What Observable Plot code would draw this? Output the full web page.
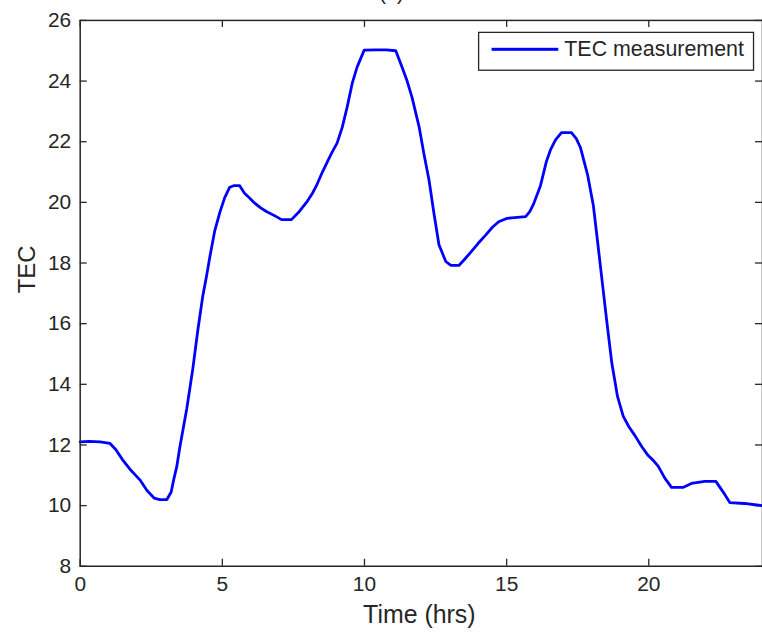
<!DOCTYPE html>
<html>
<head>
<meta charset="utf-8">
<script src="https://cdn.jsdelivr.net/npm/d3@7"></script>
<script src="https://cdn.jsdelivr.net/npm/@observablehq/plot@0.6"></script>
<style>
  html, body { margin: 0; padding: 0; background: #fff; overflow: hidden; width: 762px; height: 634px; }
  #chart svg { display: block; }
</style>
</head>
<body>
<div id="chart"></div>
<script>
const titleText = "(a)";
const xLabel = "Time (hrs)";
const yLabel = "TEC";
const legendLabel = "TEC measurement";
const xTicks = [0, 5, 10, 15, 20];
const yTicks = [8, 10, 12, 14, 16, 18, 20, 22, 24, 26];

const hours = [0, 0.3, 0.7, 1.05, 1.25, 1.5, 1.75, 2.1, 2.35, 2.6, 2.8, 3.05, 3.2, 3.3, 3.4, 3.5, 3.75, 3.96, 4.14, 4.31, 4.45, 4.56, 4.73, 4.91, 5.08, 5.26, 5.4, 5.61, 5.78, 5.95, 6.13, 6.35, 6.55, 6.9, 7.08, 7.43, 7.71, 8.0, 8.17, 8.31, 8.52, 8.83, 9.04, 9.22, 9.39, 9.57, 9.74, 9.99, 10.4, 10.76, 11.1, 11.32, 11.5, 11.67, 11.92, 12.09, 12.27, 12.44, 12.62, 12.86, 13.04, 13.32, 13.5, 13.78, 14.0, 14.27, 14.5, 14.72, 15.0, 15.18, 15.67, 15.82, 15.95, 16.19, 16.4, 16.55, 16.72, 16.93, 17.28, 17.45, 17.6, 17.85, 18.05, 18.2, 18.36, 18.52, 18.7, 18.9, 19.1, 19.3, 19.52, 19.75, 19.98, 20.15, 20.33, 20.57, 20.8, 21.2, 21.5, 21.97, 22.36, 22.6, 22.85, 23.37, 23.8, 24];
const tec = [12.1, 12.12, 12.1, 12.05, 11.85, 11.5, 11.2, 10.85, 10.5, 10.25, 10.2, 10.2, 10.45, 10.9, 11.3, 11.9, 13.2, 14.5, 15.8, 16.9, 17.6, 18.2, 19.05, 19.66, 20.15, 20.5, 20.55, 20.55, 20.3, 20.15, 19.98, 19.82, 19.7, 19.53, 19.43, 19.43, 19.7, 20.05, 20.3, 20.55, 21.0, 21.6, 21.96, 22.48, 23.14, 23.93, 24.46, 25.02, 25.03, 25.03, 25.0, 24.46, 24.0, 23.47, 22.5, 21.6, 20.74, 19.66, 18.6, 18.05, 17.92, 17.92, 18.1, 18.4, 18.65, 18.93, 19.18, 19.36, 19.47, 19.49, 19.53, 19.7, 19.95, 20.55, 21.35, 21.75, 22.06, 22.3, 22.3, 22.1, 21.8, 20.9, 19.9, 18.7, 17.4, 16.1, 14.7, 13.6, 12.95, 12.6, 12.3, 11.95, 11.65, 11.5, 11.3, 10.9, 10.6, 10.6, 10.73, 10.8, 10.8, 10.47, 10.1, 10.07, 10.02, 10.0];

const data = hours.map((h, i) => ({h, v: tec[i]}));

const ink = "#262626";
const blue = "#0000ff";
const font = "Liberation Sans, Arial, Helvetica, sans-serif";

const W = 765, H = 634;
const mL = 80, mR = 0, mT = 20, mB = 66;
const plotW = W - mL - mR, plotH = H - mT - mB;
const tick = 7;

const chart = Plot.plot({
  width: W,
  height: H,
  marginLeft: mL,
  marginRight: mR,
  marginTop: mT,
  marginBottom: mB,
  style: {fontFamily: font, fontSize: "20px", color: ink, background: "white", overflow: "visible"},
  x: {domain: [0, 24], ticks: xTicks},
  y: {domain: [8, 26], ticks: yTicks},
  marks: [
    Plot.axisX(xTicks, {anchor: "bottom", tickSize: 0, tickPadding: 10, fontSize: 21, fill: ink, label: null, tickFormat: d => String(d)}),
    Plot.axisY(yTicks, {anchor: "left", tickSize: 0, tickPadding: 9, fontSize: 21, fill: ink, label: null, tickFormat: d => String(d)}),
    Plot.tickX(xTicks, {x: d => d, insetTop: plotH - tick, stroke: ink, strokeWidth: 1.3}),
    Plot.tickX(xTicks, {x: d => d, insetBottom: plotH - tick, stroke: ink, strokeWidth: 1.3}),
    Plot.tickY(yTicks, {y: d => d, insetRight: plotW - tick, stroke: ink, strokeWidth: 1.3}),
    Plot.tickY(yTicks, {y: d => d, insetLeft: plotW - tick, stroke: ink, strokeWidth: 1.3}),
    Plot.line(data, {x: "h", y: "v", stroke: blue, strokeWidth: 2.8, strokeLinejoin: "round", strokeLinecap: "round"}),
    Plot.frame({stroke: ink, strokeWidth: 1.5}),
    Plot.frame({insetLeft: 400, insetRight: 9, insetTop: 12, insetBottom: 498, fill: "white", stroke: ink, strokeWidth: 1.3}),
    Plot.frame({insetLeft: 413, insetRight: 205, insetTop: 27.5, insetBottom: 517.5, fill: blue, stroke: "none"}),
    Plot.text([legendLabel], {frameAnchor: "top-left", dx: 486, dy: 29, textAnchor: "start", lineAnchor: "middle", fontSize: 21.5, fill: ink}),
    Plot.text([xLabel], {frameAnchor: "bottom", dx: -2, dy: 49, lineAnchor: "middle", fontSize: 25, fill: ink}),
    Plot.text([yLabel], {frameAnchor: "left", dx: -53, dy: 0, rotate: -90, lineAnchor: "middle", fontSize: 24, fill: ink}),
    Plot.text([titleText], {frameAnchor: "top", dx: -30, dy: -21, lineAnchor: "bottom", fontSize: 20, fill: ink})
  ]
});

document.getElementById("chart").appendChild(chart);
</script>
</body>
</html>
